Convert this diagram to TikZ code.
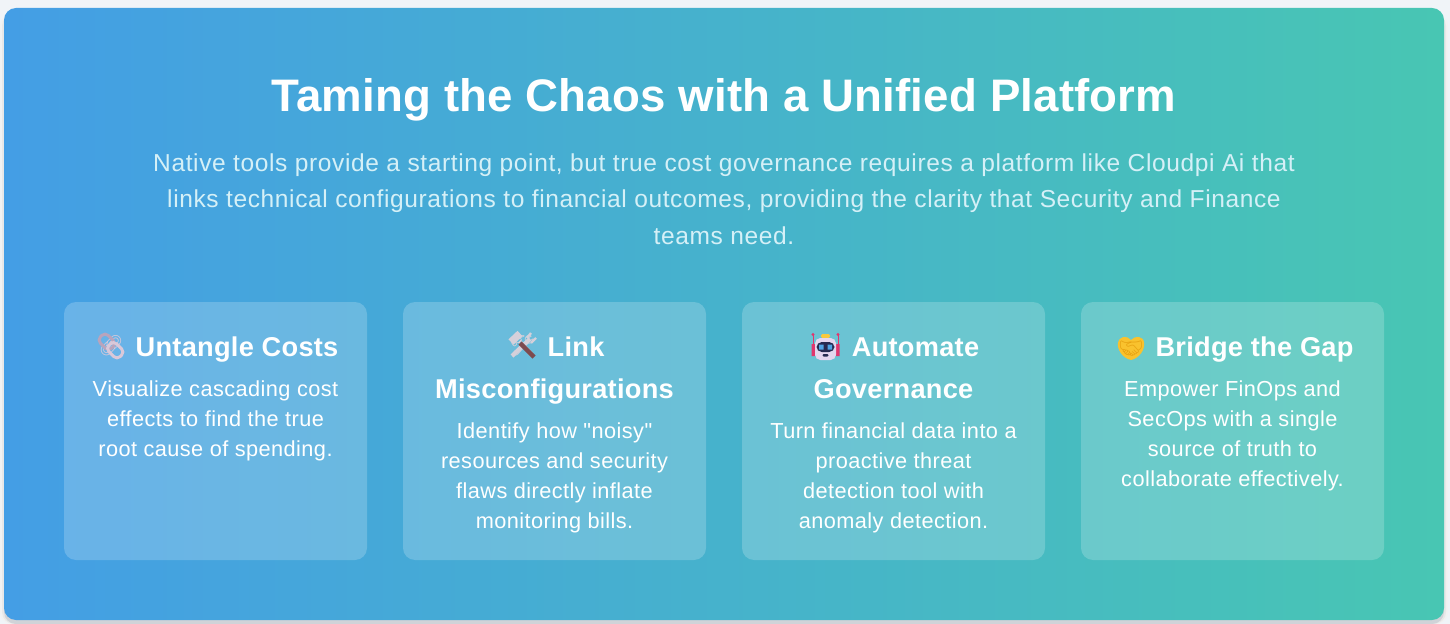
\documentclass[tikz,border=0pt]{standalone}
\usepackage{fontspec}
\setmainfont{Liberation Sans}
\newfontfamily\emojifont{Noto Emoji}
\newfontfamily\headfont[LetterSpace=1.0]{Liberation Sans Bold}
\newfontfamily\titlefont[LetterSpace=0.4]{Liberation Sans Bold}
\newfontfamily\subfont[LetterSpace=2.5]{Liberation Sans}
\newfontfamily\bodyfont[LetterSpace=2.0]{Liberation Sans}
\definecolor{pagebg}{HTML}{F0F4F8}
\definecolor{shadowc}{HTML}{D0D3D8}
\definecolor{gradL}{HTML}{449EE5}
\definecolor{gradR}{HTML}{48C6B3}
\definecolor{subtxt}{HTML}{D5F0F7}
\definecolor{linkc}{HTML}{D9C8D9}
\definecolor{linkd}{HTML}{B9A4BC}
\definecolor{toolc}{HTML}{D5D0DA}
\definecolor{handlec}{HTML}{7D4B4F}
\definecolor{botc}{HTML}{E4D6EE}
\definecolor{visorc}{HTML}{262A50}
\definecolor{eyec}{HTML}{4FA3E3}
\definecolor{redc}{HTML}{E0366E}
\definecolor{hatc}{HTML}{F6C93E}
\definecolor{handc}{HTML}{F9C22E}
\definecolor{handd}{HTML}{E8A413}
\pgfdeclarehorizontalshading{panelshade}{100bp}{color(0bp)=(gradL); color(25bp)=(gradL); color(75bp)=(gradR); color(100bp)=(gradR)}
\tikzset{
  x=0.75pt,y=-0.75pt,
  panelbox/.style={rounded corners=9pt,shading=panelshade},
  cardbox/.style={rounded corners=9pt,fill=white,fill opacity=0.2,draw=none},
  titletxt/.style={text=white,font=\fontsize{34.2pt}{40pt}\selectfont\titlefont,inner sep=0pt,anchor=base},
  subtxtline/.style={text=subtxt,font=\fontsize{18.4pt}{20pt}\selectfont\subfont,inner sep=0pt,anchor=base},
  headtxt/.style={text=white,font=\fontsize{20.4pt}{24pt}\selectfont\headfont,inner sep=0pt,anchor=base},
  bodytxt/.style={text=white,font=\fontsize{16.3pt}{19pt}\selectfont\bodyfont,inner sep=0pt,anchor=base},
  emojitxt/.style={font=\fontsize{15pt}{16pt}\selectfont\emojifont,inner sep=0pt,anchor=center},
}
\begin{document}
\begin{tikzpicture}
\path[use as bounding box,fill=pagebg] (0,0) rectangle (1450,624);
\fill[black!5,rounded corners=9pt] (0,14) rectangle (1448,624);
\fill[black!9,rounded corners=9pt] (2,14) rectangle (1446,624);
\fill[shadowc,rounded corners=9pt] (4,14) rectangle (1444,624);
\path[panelbox] (4,8) rectangle (1444,620);
\node[titletxt] (title) at (724,112) {Taming the Chaos with a Unified Platform};
\node[subtxtline] (s1) at (724,172) {Native tools provide a starting point, but true cost governance requires a platform like Cloudpi Ai that};
\node[subtxtline] (s2) at (724,208) {links technical configurations to financial outcomes, providing the clarity that Security and Finance};
\node[subtxtline] (s3) at (724,244) {teams need.};
\path[cardbox] (64,302) rectangle (367,560);
\path[cardbox] (403,302) rectangle (706,560);
\path[cardbox] (742,302) rectangle (1045,560);
\path[cardbox] (1081,302) rectangle (1384,560);
% card 1
\node[emojitxt,text=linkc] (e1) at (111,346) {🔗};
\begin{scope}[shift={(111,346)},rotate=-45]
  \draw[linkd,line width=2.2pt,rounded corners=3.4pt] (-14,-5.5) rectangle (2,5.5);
  \draw[linkc,line width=2.2pt,rounded corners=3.4pt] (-2,-5.5) rectangle (14,5.5);
\end{scope}
\node[headtxt] (h1) at (237,356) {Untangle Costs};
\node[bodytxt] (b11) at (215.5,396) {Visualize cascading cost};
\node[bodytxt] (b12) at (215.5,426) {effects to find the true};
\node[bodytxt] (b13) at (215.5,456) {root cause of spending.};
% card 2
\node[emojitxt,text=toolc] (e2) at (522.5,346) {🛠};
\draw[toolc,line width=3.2pt] (512,356) -- (530,339);
\draw[toolc,line width=1.8pt] (527,338) -- (531,333) (531,343) -- (536,338);
\draw[handlec,line width=3.2pt] (520,343) -- (534,357);
\draw[toolc,line width=5.5pt] (511,342) -- (520,333.5);
\node[headtxt] (h2) at (576,356) {Link};
\node[headtxt] (h2b) at (554.5,398) {Misconfigurations};
\node[bodytxt] (b21) at (554.5,438) {Identify how "noisy"};
\node[bodytxt] (b22) at (554.5,468) {resources and security};
\node[bodytxt] (b23) at (554.5,498) {flaws directly inflate};
\node[bodytxt] (b24) at (554.5,528) {monitoring bills.};
% card 3
\node[emojitxt,text=botc] (e3) at (825.5,349) {🤖};
\fill[redc] (811.5,344) rectangle (815,356) (836,344) rectangle (839.5,356);
\draw[redc,line width=0.7pt] (813,335) -- (813,344) (838,335) -- (838,344);
\fill[redc] (813,334.5) circle[radius=1.6] (838,334.5) circle[radius=1.6];
\fill[hatc,rounded corners=1pt] (821,334) rectangle (830,338);
\fill[botc,rounded corners=4pt] (815,338) rectangle (836,360);
\fill[visorc,rounded corners=4pt] (816.5,342) rectangle (834.5,352);
\fill[eyec] (819,344.5) rectangle (823.5,349.5) (827.5,344.5) rectangle (832,349.5);
\fill[visorc,rounded corners=0.8pt] (822.5,354) rectangle (828.5,356.5);
\node[headtxt] (h3) at (915.5,356) {Automate};
\node[headtxt] (h3b) at (893.5,398) {Governance};
\node[bodytxt] (b31) at (893.5,438) {Turn financial data into a};
\node[bodytxt] (b32) at (893.5,468) {proactive threat};
\node[bodytxt] (b33) at (893.5,498) {detection tool with};
\node[bodytxt] (b34) at (893.5,528) {anomaly detection.};
% card 4
\fill[handc] (1131,360) .. controls (1122,358) and (1117,349) .. (1118,343) .. controls (1119,336) and (1127,335) .. (1131,340) .. controls (1135,335) and (1144,336) .. (1144,343) .. controls (1145,349) and (1140,358) .. (1131,360) -- cycle;
\node[emojitxt,text=handd] (e4) at (1131,349) {🤝};
\node[headtxt] (h4) at (1254.5,356) {Bridge the Gap};
\node[bodytxt] (b41) at (1232.5,396) {Empower FinOps and};
\node[bodytxt] (b42) at (1232.5,426) {SecOps with a single};
\node[bodytxt] (b43) at (1232.5,456) {source of truth to};
\node[bodytxt] (b44) at (1232.5,486) {collaborate effectively.};
\end{tikzpicture}
\end{document}
